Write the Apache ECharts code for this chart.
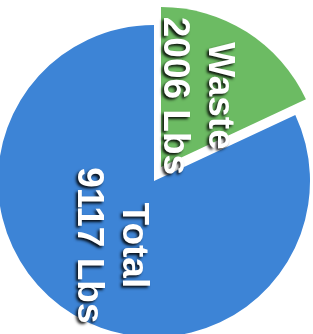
<!DOCTYPE html>
<html>
<head>
<meta charset="utf-8">
<script src="https://cdn.jsdelivr.net/npm/echarts@6/dist/echarts.min.js"></script>
<style>
  html, body { margin: 0; padding: 0; background: #fff; }
  #chart { width: 313px; height: 334px; }
</style>
</head>
<body>
<div id="chart"></div>
<script>
// slice names, values (Lbs) and colours
var names = ['Waste', 'Total']
var values = [2006, 9117]
var colors = ['#6cbb63', '#3d84d6']
// which slice each layer draws (waste slice pulled out on its own layer,
// its text sits on a see-through copy so it can hug the slice edge)
var layers = [
  { show: 'Total', center: [154, 181], radius: 156, fill: true, text: true, pad: [0, 8, 6, 0] },
  { show: 'Waste', center: [161, 167], radius: 160, fill: true, text: false, pad: 0 },
  { show: 'Waste', center: [152, 166], radius: 160, fill: false, text: true, pad: 0 }
]

var chart = echarts.init(document.getElementById('chart'))

function labelStyle (pad) {
  return {
    show: true,
    position: 'inside',
    rotate: -90,
    color: '#fff',
    fontFamily: 'Liberation Sans',
    fontWeight: 'bold',
    fontSize: 37,
    lineHeight: 45,
    align: 'center',
    padding: pad,
    textShadowColor: 'rgba(0,0,0,0.9)',
    textShadowBlur: 3,
    textShadowOffsetX: -2,
    textShadowOffsetY: 2,
    formatter: function (p) {
      return p.name + '\n' + p.value + ' Lbs'
    }
  }
}

var series = layers.map(function (layer) {
  return {
    type: 'pie',
    center: layer.center,
    radius: layer.radius,
    startAngle: 90,
    clockwise: true,
    silent: true,
    animation: false,
    labelLine: { show: false },
    label: labelStyle(layer.pad),
    labelLayout: { hideOverlap: false },
    data: names.map(function (n, i) {
      var on = n === layer.show
      return {
        name: n,
        value: values[i],
        itemStyle: { color: on && layer.fill ? colors[i] : 'rgba(0,0,0,0)' },
        label: { show: on && layer.text }
      }
    })
  }
})

chart.setOption({
  backgroundColor: '#fff',
  series: series
})
</script>
</body>
</html>
